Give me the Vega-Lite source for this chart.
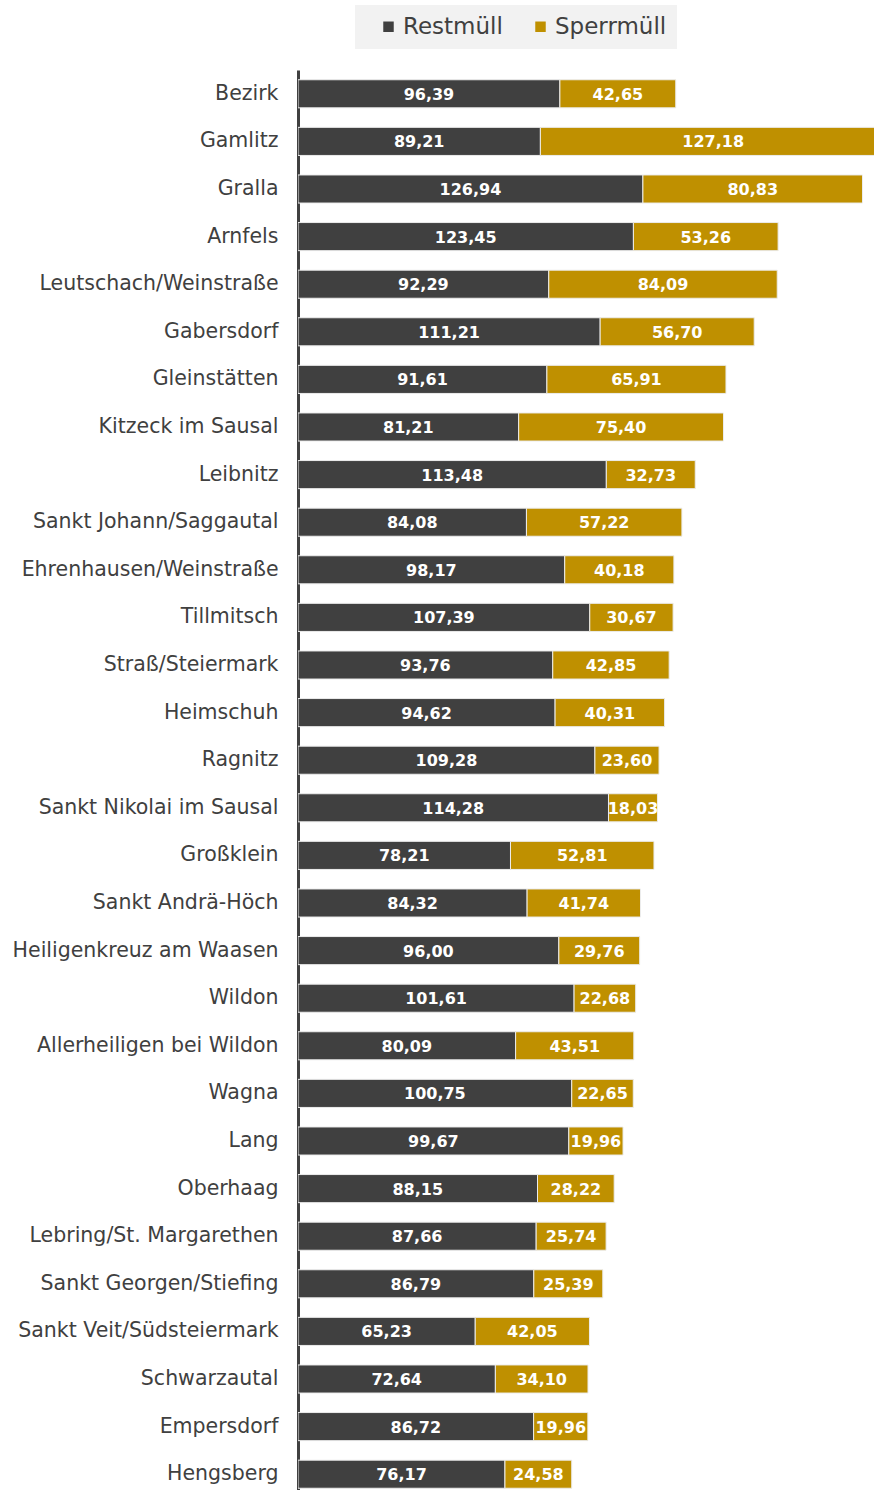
{
  "$schema": "https://vega.github.io/schema/vega-lite/v6.json",
  "autosize": {"type": "none"},
  "padding": {"left": 298, "top": 70, "right": 0, "bottom": 0},
  "width": 576,
  "height": 1428,
  "background": "white",
  "config": {
    "view": {"stroke": null},
    "locale": {"number": {"decimal": ",", "thousands": ".", "grouping": [3], "currency": ["", " €"]}}
  },
  "data": {"values": [
    {"Gemeinde": "Bezirk", "Art": "Restmüll", "Wert": 96.39}, {"Gemeinde": "Bezirk", "Art": "Sperrmüll", "Wert": 42.65},
    {"Gemeinde": "Gamlitz", "Art": "Restmüll", "Wert": 89.21}, {"Gemeinde": "Gamlitz", "Art": "Sperrmüll", "Wert": 127.18},
    {"Gemeinde": "Gralla", "Art": "Restmüll", "Wert": 126.94}, {"Gemeinde": "Gralla", "Art": "Sperrmüll", "Wert": 80.83},
    {"Gemeinde": "Arnfels", "Art": "Restmüll", "Wert": 123.45}, {"Gemeinde": "Arnfels", "Art": "Sperrmüll", "Wert": 53.26},
    {"Gemeinde": "Leutschach/Weinstraße", "Art": "Restmüll", "Wert": 92.29}, {"Gemeinde": "Leutschach/Weinstraße", "Art": "Sperrmüll", "Wert": 84.09},
    {"Gemeinde": "Gabersdorf", "Art": "Restmüll", "Wert": 111.21}, {"Gemeinde": "Gabersdorf", "Art": "Sperrmüll", "Wert": 56.70},
    {"Gemeinde": "Gleinstätten", "Art": "Restmüll", "Wert": 91.61}, {"Gemeinde": "Gleinstätten", "Art": "Sperrmüll", "Wert": 65.91},
    {"Gemeinde": "Kitzeck im Sausal", "Art": "Restmüll", "Wert": 81.21}, {"Gemeinde": "Kitzeck im Sausal", "Art": "Sperrmüll", "Wert": 75.40},
    {"Gemeinde": "Leibnitz", "Art": "Restmüll", "Wert": 113.48}, {"Gemeinde": "Leibnitz", "Art": "Sperrmüll", "Wert": 32.73},
    {"Gemeinde": "Sankt Johann/Saggautal", "Art": "Restmüll", "Wert": 84.08}, {"Gemeinde": "Sankt Johann/Saggautal", "Art": "Sperrmüll", "Wert": 57.22},
    {"Gemeinde": "Ehrenhausen/Weinstraße", "Art": "Restmüll", "Wert": 98.17}, {"Gemeinde": "Ehrenhausen/Weinstraße", "Art": "Sperrmüll", "Wert": 40.18},
    {"Gemeinde": "Tillmitsch", "Art": "Restmüll", "Wert": 107.39}, {"Gemeinde": "Tillmitsch", "Art": "Sperrmüll", "Wert": 30.67},
    {"Gemeinde": "Straß/Steiermark", "Art": "Restmüll", "Wert": 93.76}, {"Gemeinde": "Straß/Steiermark", "Art": "Sperrmüll", "Wert": 42.85},
    {"Gemeinde": "Heimschuh", "Art": "Restmüll", "Wert": 94.62}, {"Gemeinde": "Heimschuh", "Art": "Sperrmüll", "Wert": 40.31},
    {"Gemeinde": "Ragnitz", "Art": "Restmüll", "Wert": 109.28}, {"Gemeinde": "Ragnitz", "Art": "Sperrmüll", "Wert": 23.60},
    {"Gemeinde": "Sankt Nikolai im Sausal", "Art": "Restmüll", "Wert": 114.28}, {"Gemeinde": "Sankt Nikolai im Sausal", "Art": "Sperrmüll", "Wert": 18.03},
    {"Gemeinde": "Großklein", "Art": "Restmüll", "Wert": 78.21}, {"Gemeinde": "Großklein", "Art": "Sperrmüll", "Wert": 52.81},
    {"Gemeinde": "Sankt Andrä-Höch", "Art": "Restmüll", "Wert": 84.32}, {"Gemeinde": "Sankt Andrä-Höch", "Art": "Sperrmüll", "Wert": 41.74},
    {"Gemeinde": "Heiligenkreuz am Waasen", "Art": "Restmüll", "Wert": 96.00}, {"Gemeinde": "Heiligenkreuz am Waasen", "Art": "Sperrmüll", "Wert": 29.76},
    {"Gemeinde": "Wildon", "Art": "Restmüll", "Wert": 101.61}, {"Gemeinde": "Wildon", "Art": "Sperrmüll", "Wert": 22.68},
    {"Gemeinde": "Allerheiligen bei Wildon", "Art": "Restmüll", "Wert": 80.09}, {"Gemeinde": "Allerheiligen bei Wildon", "Art": "Sperrmüll", "Wert": 43.51},
    {"Gemeinde": "Wagna", "Art": "Restmüll", "Wert": 100.75}, {"Gemeinde": "Wagna", "Art": "Sperrmüll", "Wert": 22.65},
    {"Gemeinde": "Lang", "Art": "Restmüll", "Wert": 99.67}, {"Gemeinde": "Lang", "Art": "Sperrmüll", "Wert": 19.96},
    {"Gemeinde": "Oberhaag", "Art": "Restmüll", "Wert": 88.15}, {"Gemeinde": "Oberhaag", "Art": "Sperrmüll", "Wert": 28.22},
    {"Gemeinde": "Lebring/St. Margarethen", "Art": "Restmüll", "Wert": 87.66}, {"Gemeinde": "Lebring/St. Margarethen", "Art": "Sperrmüll", "Wert": 25.74},
    {"Gemeinde": "Sankt Georgen/Stiefing", "Art": "Restmüll", "Wert": 86.79}, {"Gemeinde": "Sankt Georgen/Stiefing", "Art": "Sperrmüll", "Wert": 25.39},
    {"Gemeinde": "Sankt Veit/Südsteiermark", "Art": "Restmüll", "Wert": 65.23}, {"Gemeinde": "Sankt Veit/Südsteiermark", "Art": "Sperrmüll", "Wert": 42.05},
    {"Gemeinde": "Schwarzautal", "Art": "Restmüll", "Wert": 72.64}, {"Gemeinde": "Schwarzautal", "Art": "Sperrmüll", "Wert": 34.10},
    {"Gemeinde": "Empersdorf", "Art": "Restmüll", "Wert": 86.72}, {"Gemeinde": "Empersdorf", "Art": "Sperrmüll", "Wert": 19.96},
    {"Gemeinde": "Hengsberg", "Art": "Restmüll", "Wert": 76.17}, {"Gemeinde": "Hengsberg", "Art": "Sperrmüll", "Wert": 24.58}
  ]},
  "transform": [
    {"stack": "Wert", "groupby": ["Gemeinde"], "sort": [{"field": "Art", "order": "ascending"}], "as": ["x0", "x1"]},
    {"calculate": "(datum.x0 + datum.x1) / 2", "as": "xmid"}
  ],
  "encoding": {
    "y": {
      "field": "Gemeinde", "type": "nominal", "sort": null,
      "scale": {"paddingInner": 0.41, "paddingOuter": 0.205},
      "axis": {
        "title": null, "ticks": false, "labelPadding": 20, "labelLimit": 400,
        "labelFont": "DejaVu Sans", "labelFontSize": 20.5, "labelColor": "#404040",
        "domain": true, "domainColor": "#404040", "domainWidth": 3, "grid": false
      }
    }
  },
  "layer": [
    {
      "mark": {"type": "bar", "clip": true, "stroke": "#ececec", "strokeWidth": 1},
      "encoding": {
        "x": {"field": "x0", "type": "quantitative", "scale": {"domain": [0, 212], "nice": false, "zero": true}, "axis": null},
        "x2": {"field": "x1"},
        "color": {
          "field": "Art", "type": "nominal",
          "scale": {"domain": ["Restmüll", "Sperrmüll"], "range": ["#404040", "#BF9000"]},
          "legend": {
            "title": null, "orient": "none", "direction": "horizontal",
            "legendX": 57, "legendY": -65,
            "fillColor": "#f2f2f2", "padding": 10, "symbolOffset": 12,
            "symbolType": "square", "symbolSize": 110, "symbolStrokeWidth": 0,
            "labelFont": "DejaVu Sans", "labelFontSize": 23, "labelColor": "#404040",
            "labelOffset": 3, "columnPadding": 14
          }
        }
      }
    },
    {
      "mark": {"type": "text", "color": "white", "font": "DejaVu Sans", "fontWeight": "bold", "fontSize": 16, "align": "center", "baseline": "middle", "dy": 1},
      "encoding": {
        "x": {"field": "xmid", "type": "quantitative"},
        "text": {"field": "Wert", "type": "quantitative", "format": ".2f"}
      }
    }
  ]
}
